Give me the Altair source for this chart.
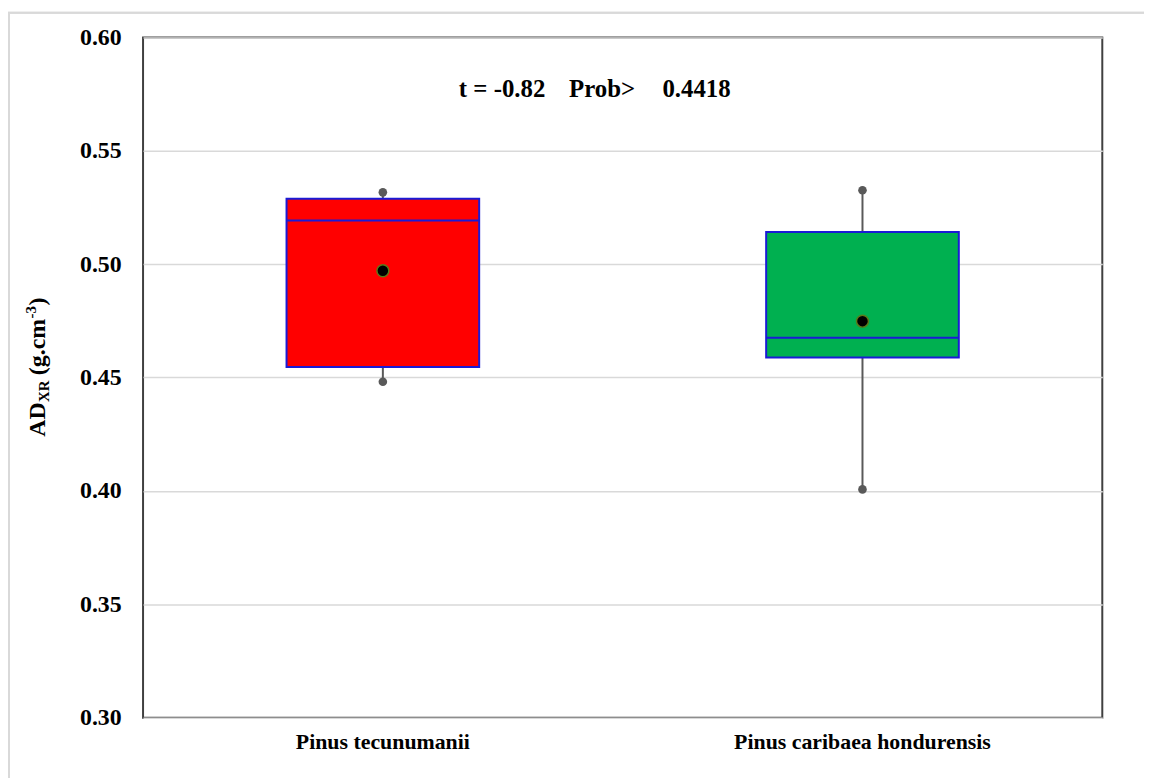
import altair as alt
import pandas as pd

species = ["Pinus tecunumanii", "Pinus caribaea hondurensis"]
whisker_low = [0.4482, 0.4007]
q1 = [0.4547, 0.4589]
median = [0.5193, 0.4676]
q3 = [0.5289, 0.5142]
whisker_high = [0.5317, 0.5326]
mean = [0.4971, 0.4749]
box_colors = ["#FF0000", "#00B050"]
y_ticks = [0.30, 0.35, 0.40, 0.45, 0.50, 0.55, 0.60]
stat_parts = ["t = -0.82", "Prob>", "0.4418"]

df = pd.DataFrame({
    "species": species, "lo": whisker_low, "q1": q1, "med": median,
    "q3": q3, "hi": whisker_high, "mean": mean, "color": box_colors,
})

W, H = 966, 685
SERIF = "Liberation Serif"

x_enc = alt.X("species:N", sort=species, title=None,
              scale=alt.Scale(paddingInner=0, paddingOuter=0),
              axis=alt.Axis(labelFont=SERIF, labelFontSize=22, labelFontWeight="bold",
                            labelColor="black", labelPadding=14, ticks=False, labelLimit=0,
                            domain=False, grid=False, labelAngle=0))
y_scale = alt.Scale(domain=[0.30, 0.60], nice=False, zero=False)
y_axis = alt.Axis(values=y_ticks, format=".2f", labelFont=SERIF, labelFontSize=24,
                  labelFontWeight="bold", labelColor="black", labelPadding=22,
                  ticks=False, domain=False, grid=True, gridColor="#d9d9d9",
                  gridWidth=1.5, title=None)

base = alt.Chart(df)

whisk = base.mark_rule(color="#595959", strokeWidth=2).encode(
    x=x_enc, y=alt.Y("lo:Q", scale=y_scale, axis=y_axis), y2="hi:Q")
ends_lo = base.mark_point(filled=True, shape="circle", size=75, color="#595959", opacity=1).encode(
    x=x_enc, y=alt.Y("lo:Q", scale=y_scale, axis=y_axis))
ends_hi = base.mark_point(filled=True, shape="circle", size=75, color="#595959", opacity=1).encode(
    x=x_enc, y=alt.Y("hi:Q", scale=y_scale, axis=y_axis))
box = base.mark_bar(size=194, stroke="#1a1ad6", strokeWidth=2).encode(
    x=x_enc, y=alt.Y("q1:Q", scale=y_scale, axis=y_axis), y2="q3:Q",
    fill=alt.Fill("color:N", scale=None))
med = base.mark_tick(size=194, thickness=2, color="#1a1ad6", opacity=1).encode(
    x=x_enc, y=alt.Y("med:Q", scale=y_scale, axis=y_axis))
mn = base.mark_point(filled=True, shape="circle", size=145, fill="black",
                     stroke="#5a7a1a", strokeWidth=1.5, opacity=1).encode(
    x=x_enc, y=alt.Y("mean:Q", scale=y_scale, axis=y_axis))

stat_df = pd.DataFrame({"t": stat_parts, "px": [318, 429, 523]})
stats = alt.Chart(stat_df).mark_text(font=SERIF, fontSize=25, fontWeight="bold",
                                     color="black", align="left", baseline="alphabetic").encode(
    x=alt.X("px:Q", scale=None), y=alt.value(60), text="t:N")

# y-axis title pieces (rotated), with subscript and superscript
title_parts = ["AD", "XR", "(g.cm", "-3", ")"]
title_sizes = [24, 15, 24, 15, 24]
title_y = [402, 367, 340, 283, 270]
title_x = [-99, -95, -99, -108, -99]
tdf = pd.DataFrame({"t": title_parts, "fs": title_sizes, "py": title_y, "px": title_x})
ytitle = alt.Chart(tdf).mark_text(font=SERIF, fontWeight="bold", color="black", angle=270,
                                  align="left", baseline="alphabetic").encode(
    x=alt.X("px:Q", scale=None), y=alt.Y("py:Q", scale=None),
    text="t:N", size=alt.Size("fs:Q", scale=None))

border_l = alt.Chart(df).mark_rule(color="#d9d9d9", strokeWidth=2).encode(
    x=alt.value(-135), y=alt.value(-25), y2=alt.value(900))
border_t = alt.Chart(df).mark_rule(color="#d9d9d9", strokeWidth=2).encode(
    x=alt.value(-136), x2=alt.value(1200), y=alt.value(-25))

chart = alt.layer(whisk, ends_lo, ends_hi, box, med, mn, stats, ytitle, border_l, border_t).properties(
    width=W, height=H,
    padding={"left": 136, "top": 27, "right": 42, "bottom": 58},
    autosize=alt.AutoSizeParams(type="none"),
    background="white",
).configure_view(stroke="#404040", strokeWidth=2)

chart.save("out.html", embed_options={"renderer": "svg", "actions": False})
